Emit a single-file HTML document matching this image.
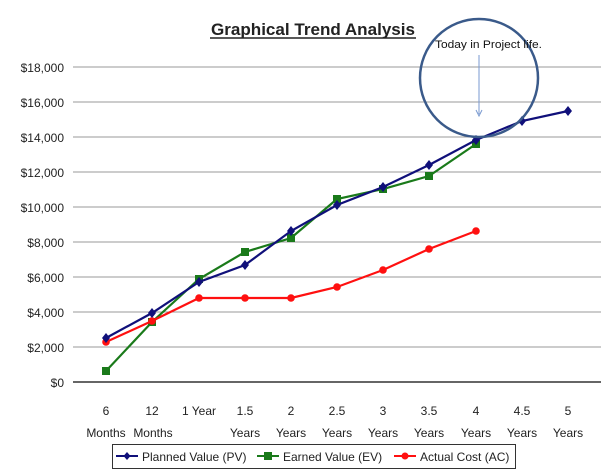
<!DOCTYPE html>
<html><head><style>
body{margin:0;background:#fff}
svg{display:block}
text{font-family:"Liberation Sans",Arial,sans-serif}
</style></head><body>
<svg width="601" height="475" xmlns="http://www.w3.org/2000/svg">
<rect width="601" height="475" fill="#fff"/>
<text x="313" y="35" text-anchor="middle" font-size="17" font-weight="bold" fill="#222" textLength="204" lengthAdjust="spacingAndGlyphs">Graphical Trend Analysis</text>
<line x1="210" y1="38" x2="416" y2="38" stroke="#222" stroke-width="1.5"/>
<g stroke="#999" stroke-width="1">
<line x1="73" y1="67" x2="601" y2="67"/><line x1="73" y1="102" x2="601" y2="102"/>
<line x1="73" y1="137" x2="601" y2="137"/><line x1="73" y1="172" x2="601" y2="172"/>
<line x1="73" y1="207" x2="601" y2="207"/><line x1="73" y1="242" x2="601" y2="242"/>
<line x1="73" y1="277" x2="601" y2="277"/><line x1="73" y1="312" x2="601" y2="312"/>
<line x1="73" y1="347" x2="601" y2="347"/>
</g>
<line x1="73" y1="382" x2="601" y2="382" stroke="#333" stroke-width="1.5"/>
<g font-size="12" fill="#222" text-anchor="end">
<text x="64" y="72">$18,000</text><text x="64" y="107">$16,000</text><text x="64" y="142">$14,000</text>
<text x="64" y="177">$12,000</text><text x="64" y="212">$10,000</text><text x="64" y="247">$8,000</text>
<text x="64" y="282">$6,000</text><text x="64" y="317">$4,000</text><text x="64" y="352">$2,000</text>
<text x="64" y="387">$0</text>
</g>
<g font-size="12" fill="#222" text-anchor="middle">
<text x="106" y="415">6</text><text x="152" y="415">12</text><text x="199" y="415">1 Year</text>
<text x="245" y="415">1.5</text><text x="291" y="415">2</text><text x="337" y="415">2.5</text>
<text x="383" y="415">3</text><text x="429" y="415">3.5</text><text x="476" y="415">4</text>
<text x="522" y="415">4.5</text><text x="568" y="415">5</text>
<text x="106" y="437">Months</text><text x="153" y="437">Months</text>
<text x="245" y="437">Years</text><text x="291" y="437">Years</text><text x="337" y="437">Years</text>
<text x="383" y="437">Years</text><text x="429" y="437">Years</text><text x="476" y="437">Years</text>
<text x="522" y="437">Years</text><text x="568" y="437">Years</text>
</g>
<polyline fill="none" stroke="#1a7a1a" stroke-width="2.2" points="106,371 152,322 199,279 245,252 291,238 337,199 383,189 429,176 476,144"/>
<g fill="#1a7a1a"><rect x="102" y="367" width="8" height="8"/><rect x="148" y="318" width="8" height="8"/><rect x="195" y="275" width="8" height="8"/><rect x="241" y="248" width="8" height="8"/><rect x="287" y="234" width="8" height="8"/><rect x="333" y="195" width="8" height="8"/><rect x="379" y="185" width="8" height="8"/><rect x="425" y="172" width="8" height="8"/><rect x="472" y="140" width="8" height="8"/></g>
<polyline fill="none" stroke="#ff1010" stroke-width="2.2" points="106,342 152,321 199,298 245,298 291,298 337,287 383,270 429,249 476,231"/>
<g fill="#ff1010"><circle cx="106" cy="342" r="3.8"/><circle cx="152" cy="321" r="3.8"/><circle cx="199" cy="298" r="3.8"/><circle cx="245" cy="298" r="3.8"/><circle cx="291" cy="298" r="3.8"/><circle cx="337" cy="287" r="3.8"/><circle cx="383" cy="270" r="3.8"/><circle cx="429" cy="249" r="3.8"/><circle cx="476" cy="231" r="3.8"/></g>
<polyline fill="none" stroke="#10107a" stroke-width="2.2" points="106,338 152,313 199,282 245,265 291,231 337,205 383,187 429,165 476,140 522,121 568,111"/>
<g fill="#10107a">
<path d="M106 333l4 5-4 5-4-5z"/><path d="M152 308l4 5-4 5-4-5z"/><path d="M199 277l4 5-4 5-4-5z"/><path d="M245 260l4 5-4 5-4-5z"/><path d="M291 226l4 5-4 5-4-5z"/><path d="M337 200l4 5-4 5-4-5z"/><path d="M383 182l4 5-4 5-4-5z"/><path d="M429 160l4 5-4 5-4-5z"/><path d="M476 135l4 5-4 5-4-5z"/><path d="M522 116l4 5-4 5-4-5z"/><path d="M568 106l4 5-4 5-4-5z"/>
</g>
<ellipse cx="479" cy="78" rx="59" ry="59" fill="none" stroke="#3a5a8a" stroke-width="2.5"/>
<line x1="479" y1="55" x2="479" y2="114" stroke="#7a9ad0" stroke-width="1"/>
<path d="M476 110l3 6 3-6" fill="none" stroke="#7a9ad0" stroke-width="1"/>
<text x="435" y="48" font-size="11" fill="#111" textLength="107" lengthAdjust="spacingAndGlyphs">Today in Project life.</text>
<rect x="112.5" y="444.5" width="403" height="24" fill="#fff" stroke="#333" stroke-width="1"/>
<line x1="116" y1="456" x2="138" y2="456" stroke="#10107a" stroke-width="2"/><path d="M127 452l3.5 4-3.5 4-3.5-4z" fill="#10107a"/>
<text x="142" y="461" font-size="12" fill="#222">Planned Value (PV)</text>
<line x1="257" y1="456" x2="279" y2="456" stroke="#1a7a1a" stroke-width="2"/><rect x="264" y="452" width="8" height="8" fill="#1a7a1a"/>
<text x="283" y="461" font-size="12" fill="#222">Earned Value (EV)</text>
<line x1="394" y1="456" x2="416" y2="456" stroke="#ff1010" stroke-width="2"/><circle cx="405" cy="456" r="3.5" fill="#ff1010"/>
<text x="420" y="461" font-size="12" fill="#222">Actual Cost (AC)</text>
</svg>
</body></html>
